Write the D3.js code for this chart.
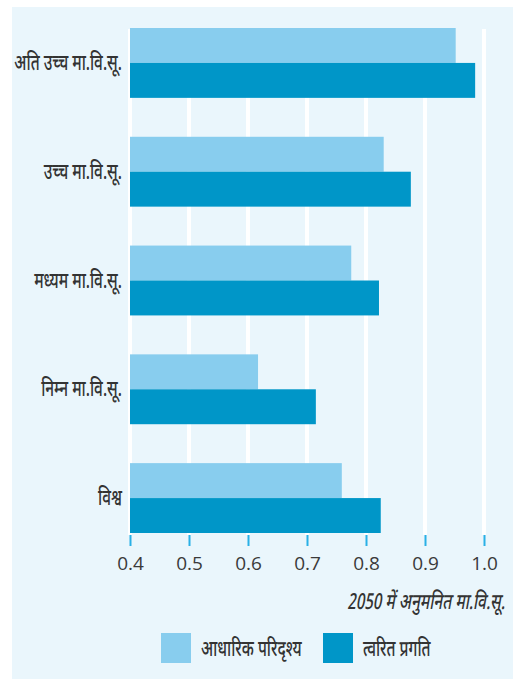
<!DOCTYPE html>
<html>
<head>
<meta charset="utf-8">
<script src="https://cdn.jsdelivr.net/npm/d3@7"></script>
<style>
  html, body { margin: 0; padding: 0; background: #ffffff; }
  svg { display: block; }
  .cat { font-family: "Noto Sans Devanagari", "Noto Sans", "Lohit Devanagari", sans-serif; font-size: 22px; font-weight: 500; fill: #333333; }
</style>
</head>
<body>
<svg id="chart" width="513" height="679"></svg>
<script>
// Regions (top to bottom) and projected HDI in 2050 for the two scenarios
const categories = ["अति उच्च मा.वि.सू.", "उच्च मा.वि.सू.", "मध्यम मा.वि.सू.", "निम्न मा.वि.सू.", "विश्व"];
const baseScenario = [0.952, 0.830, 0.775, 0.617, 0.759];
const acceleratedProgress = [0.985, 0.876, 0.822, 0.715, 0.825];
const seriesNames = ["आधारिक परिदृश्य", "त्वरित प्रगति"];
const tickValues = [0.4, 0.5, 0.6, 0.7, 0.8, 0.9, 1.0];
const axisTitle = "2050 में अनुमनित मा.वि.सू.";

const colors = ["#88cdee", "#0096c8"];
// Devanagari labels are set in a narrow, condensed style
const condense = 0.7;

const svg = d3.select("#chart");

// panel background
svg.append("rect")
  .attr("x", 12).attr("y", 7)
  .attr("width", 501).attr("height", 672)
  .attr("fill", "#eaf6fc");

const x = d3.scaleLinear().domain([0.4, 1.0]).range([130, 484]);
const y = d3.scaleBand().domain(categories).range([28, 533]).paddingInner(39 / 109).paddingOuter(0);
const ySub = d3.scaleBand().domain([0, 1]).range([0, y.bandwidth()]);

// vertical white gridlines
svg.append("g").selectAll("line")
  .data(tickValues)
  .join("line")
  .attr("x1", d => x(d)).attr("x2", d => x(d))
  .attr("y1", 29).attr("y2", 535)
  .attr("stroke", "#ffffff")
  .attr("stroke-width", 4);

// bars
const rows = categories.map((c, i) => ({ cat: c, values: [baseScenario[i], acceleratedProgress[i]] }));
const groups = svg.append("g").selectAll("g")
  .data(rows)
  .join("g")
  .attr("transform", d => `translate(0,${y(d.cat)})`);

groups.selectAll("rect")
  .data(d => d.values.map((v, k) => ({ v, k })))
  .join("rect")
  .attr("x", x(0.4))
  .attr("y", d => ySub(d.k))
  .attr("width", d => x(d.v) - x(0.4))
  .attr("height", ySub.bandwidth())
  .attr("fill", d => colors[d.k]);

// condensed text helper: positioned at (px, py), squeezed horizontally
function condensedText(parent, px, py, str, anchor) {
  return parent.append("text")
    .attr("class", "cat")
    .attr("transform", `translate(${px},${py}) scale(${condense},1)`)
    .attr("text-anchor", anchor)
    .text(str);
}

// category labels
const gCat = svg.append("g");
categories.forEach(c => {
  condensedText(gCat, 122, y(c) + y.bandwidth() / 2 + 7, c, "end");
});

// x axis: ticks and labels
const axis = d3.axisBottom(x)
  .tickValues(tickValues)
  .tickSize(11)
  .tickPadding(11)
  .tickFormat(d3.format(".1f"));

const gAxis = svg.append("g")
  .attr("transform", "translate(0,535)")
  .call(axis);
gAxis.select(".domain").remove();
gAxis.selectAll(".tick line").attr("stroke", "#29b0e6").attr("stroke-width", 2);
gAxis.selectAll(".tick text")
  .attr("fill", "#3a3a3a")
  .style("font-family", "'Open Sans', 'Noto Sans', sans-serif")
  .style("font-size", "19px");

// axis title
condensedText(svg, 505, 609, axisTitle, "end").style("font-style", "italic");

// legend
const legendItems = [
  { name: seriesNames[0], color: colors[0], x: 161, tx: 201 },
  { name: seriesNames[1], color: colors[1], x: 323, tx: 363 }
];
const lg = svg.append("g");
legendItems.forEach(d => {
  lg.append("rect")
    .attr("x", d.x).attr("y", 633)
    .attr("width", 30).attr("height", 30)
    .attr("fill", d.color);
  condensedText(lg, d.tx, 656, d.name, "start");
});
</script>
</body>
</html>
